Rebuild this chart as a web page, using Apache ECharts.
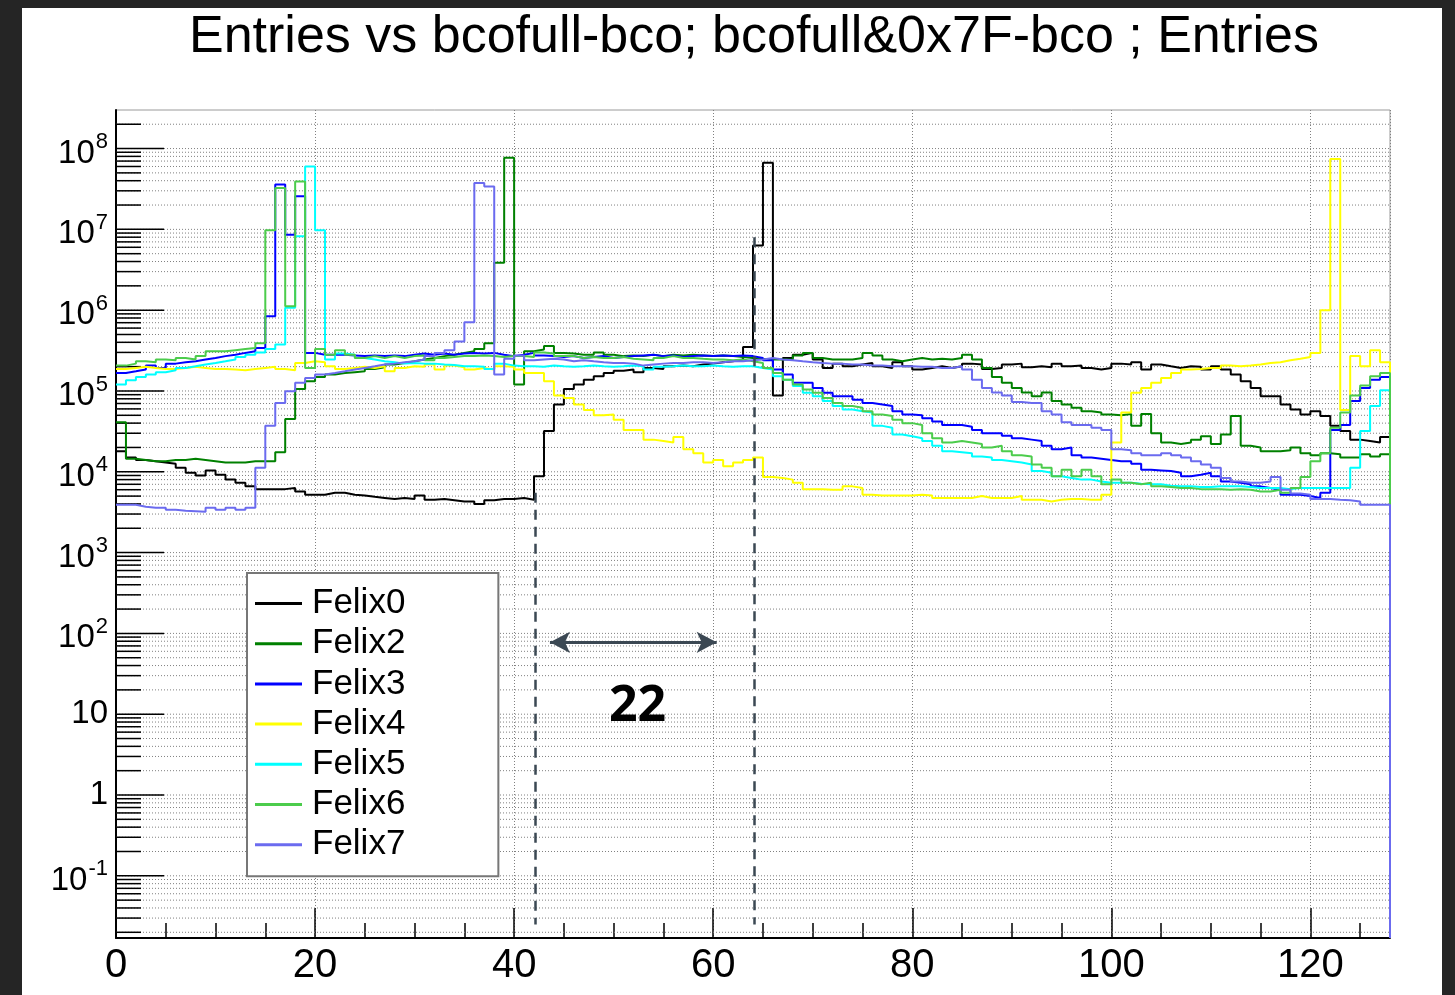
<!DOCTYPE html>
<html><head><meta charset="utf-8">
<script src="https://cdn.jsdelivr.net/npm/echarts@6/dist/echarts.min.js"></script>
<style>html,body{margin:0;padding:0;background:#fff}#c{width:1455px;height:995px}</style>
</head><body><div id="c"></div>
<script>
// ---------- data (entries per bin, 128 bins, x = 0..128) ----------
const felix0 = [
1.8e4,1.5e4,1.4e4,1.35e4,1.3e4,1.26e4,1.12e4,9.7e3,9.0e3,1.04e4,
9.2e3,8.0e3,7.3e3,6.6e3,6.1e3,6.1e3,6.1e3,6.3e3,5.7e3,5.2e3,
5.2e3,5.5e3,5.5e3,5.2e3,5.1e3,4.9e3,4.75e3,4.6e3,4.75e3,4.6e3,
5.1e3,4.5e3,4.6e3,4.45e3,4.3e3,4.3e3,4.0e3,4.45e3,4.6e3,4.6e3,
4.75e3,4.5e3,8.8e3,3.2e4,6.8e4,1.06e5,1.2e5,1.38e5,1.52e5,1.67e5,
1.78e5,1.84e5,1.71e5,1.93e5,1.87e5,2.02e5,2.06e5,2.02e5,2.12e5,2.18e5,
2.27e5,2.33e5,2.45e5,3.5e5,6.3e6,6.65e7,8.8e4,2.56e5,2.8e5,2.96e5,
2.45e5,1.93e5,2.18e5,2.02e5,2.12e5,2.22e5,2.02e5,1.93e5,2.27e5,2.02e5,
1.84e5,1.93e5,2.02e5,1.93e5,2.02e5,2.18e5,2.12e5,1.87e5,1.93e5,2.12e5,
2.18e5,1.97e5,2.02e5,1.97e5,2.18e5,2.02e5,2.06e5,1.93e5,1.84e5,1.93e5,
2.18e5,2.12e5,2.27e5,1.84e5,2.12e5,2.02e5,1.93e5,2.02e5,1.99e5,1.84e5,
2.02e5,1.84e5,1.6e5,1.32e5,1.09e5,8.6e4,8.6e4,6.8e4,5.9e4,5.1e4,
5.6e4,4.9e4,3.7e4,3.2e4,2.5e4,2.4e4,2.3e4,2.7e4];
const felix2 = [
4.1e4,1.45e4,1.4e4,1.35e4,1.35e4,1.4e4,1.4e4,1.45e4,1.4e4,1.35e4,
1.3e4,1.3e4,1.3e4,1.35e4,1.35e4,1.35e4,1.75e4,4.5e4,1.06e5,1.32e5,
1.49e5,1.6e5,1.67e5,1.71e5,1.75e5,1.87e5,1.97e5,2.12e5,2.22e5,2.33e5,
2.45e5,2.56e5,2.7e5,2.8e5,2.96e5,3.1e5,3.3e5,3.9e5,3.85e6,7.7e7,
1.2e5,3.1e5,3.25e5,3.6e5,2.96e5,2.9e5,2.8e5,2.8e5,3.0e5,2.8e5,
2.7e5,2.75e5,2.7e5,2.8e5,2.7e5,2.8e5,2.75e5,2.8e5,2.75e5,2.7e5,
2.75e5,2.7e5,2.64e5,2.56e5,2.5e5,2.45e5,2.45e5,2.45e5,2.75e5,2.96e5,
2.56e5,2.45e5,2.45e5,2.45e5,2.56e5,2.96e5,2.75e5,2.45e5,2.33e5,2.45e5,
2.56e5,2.45e5,2.5e5,2.45e5,2.56e5,2.8e5,2.45e5,1.93e5,1.49e5,1.26e5,
1.09e5,9.6e4,8.6e4,9.6e4,7.5e4,6.8e4,6.2e4,5.6e4,5.4e4,5.1e4,
5.0e4,5.2e4,3.7e4,5.2e4,3.0e4,2.3e4,2.2e4,2.3e4,2.5e4,2.75e4,
2.2e4,2.9e4,4.9e4,2.1e4,2.0e4,1.8e4,1.8e4,1.85e4,2.0e4,1.7e4,
1.6e4,1.7e4,1.65e4,1.5e4,1.5e4,1.65e4,1.55e4,1.65e4];
const felix3 = [
1.67e5,1.75e5,1.84e5,2.06e5,1.93e5,2.18e5,2.27e5,2.33e5,2.45e5,2.56e5,
2.7e5,2.8e5,2.96e5,3.1e5,3.4e5,8.4e5,3.6e7,8.6e6,2.57e7,2.96e5,
2.8e5,2.8e5,2.8e5,2.75e5,2.7e5,2.75e5,2.7e5,2.75e5,2.7e5,2.8e5,
2.9e5,2.8e5,2.9e5,2.8e5,2.9e5,2.96e5,2.9e5,2.96e5,2.8e5,2.7e5,
2.8e5,2.96e5,2.75e5,2.7e5,2.64e5,2.7e5,2.56e5,2.64e5,2.7e5,2.56e5,
2.64e5,2.7e5,2.75e5,2.8e5,2.7e5,2.75e5,2.64e5,2.7e5,2.75e5,2.7e5,
2.75e5,2.7e5,2.75e5,2.7e5,2.56e5,2.4e5,1.84e5,1.6e5,1.26e5,1.26e5,
1.09e5,9.5e4,8.6e4,8.6e4,7.8e4,7.1e4,6.8e4,6.5e4,5.6e4,5.1e4,
5.0e4,4.6e4,4.2e4,3.8e4,3.8e4,3.6e4,3.3e4,3.0e4,3.0e4,2.8e4,
2.6e4,2.5e4,2.4e4,2.1e4,1.9e4,2.0e4,1.6e4,1.5e4,1.45e4,1.4e4,
1.35e4,1.35e4,1.26e4,1.06e4,1.04e4,1.02e4,9.7e3,8.8e3,9.2e3,9.7e3,
8.8e3,7.6e3,7.3e3,7.0e3,6.6e3,6.3e3,6.0e3,5.2e3,5.2e3,5.0e3,
4.75e3,5.5e3,3.3e4,3.8e4,7.5e4,1.09e5,1.38e5,1.49e5];
const felix4 = [
1.87e5,1.93e5,1.99e5,1.93e5,1.87e5,1.87e5,1.93e5,1.99e5,1.93e5,1.87e5,
1.87e5,1.84e5,1.81e5,1.87e5,1.93e5,1.99e5,1.87e5,1.81e5,2.22e5,2.33e5,
2.27e5,2.02e5,1.87e5,1.93e5,1.99e5,1.93e5,2.02e5,1.75e5,1.93e5,2.02e5,
1.99e5,2.12e5,1.84e5,2.06e5,1.97e5,1.84e5,1.93e5,1.84e5,2.02e5,1.99e5,
1.84e5,1.67e5,1.67e5,1.32e5,8.8e4,8.2e4,6.8e4,5.8e4,5.0e4,5.1e4,
4.4e4,3.3e4,3.3e4,2.5e4,2.4e4,2.3e4,2.7e4,1.9e4,1.7e4,1.3e4,
1.4e4,1.17e4,1.3e4,1.4e4,1.5e4,8.6e3,8.4e3,8.0e3,7.3e3,6.1e3,
6.1e3,6.0e3,6.0e3,6.6e3,6.3e3,5.2e3,5.1e3,5.1e3,5.1e3,5.1e3,
5.2e3,5.1e3,4.75e3,4.75e3,4.75e3,4.75e3,5.0e3,4.75e3,4.75e3,4.75e3,
5.0e3,4.5e3,4.5e3,4.3e3,4.5e3,4.6e3,4.6e3,4.5e3,4.5e3,5.2e3,
2.3e4,5.4e4,9.5e4,1.09e5,1.26e5,1.45e5,1.67e5,1.84e5,1.87e5,1.93e5,
1.93e5,2.06e5,2.02e5,2.06e5,2.12e5,2.22e5,2.27e5,2.4e5,2.5e5,2.64e5,
2.96e5,1.0e6,7.4e7,5.8e4,2.7e5,2.02e5,3.2e5,2.27e5];
const felix5 = [
1.2e5,1.36e5,1.49e5,1.6e5,1.71e5,1.81e5,1.93e5,2.02e5,2.12e5,2.22e5,
2.33e5,2.45e5,2.64e5,2.8e5,3.0e5,3.3e5,3.75e5,1.07e6,8.2e6,6.0e7,
9.75e6,2.45e5,2.9e5,2.8e5,2.56e5,2.45e5,2.33e5,2.27e5,2.18e5,2.22e5,
2.18e5,2.18e5,2.12e5,2.1e5,2.02e5,2.02e5,1.99e5,1.87e5,2.18e5,2.06e5,
2.02e5,2.02e5,1.99e5,2.06e5,2.02e5,1.99e5,2.02e5,2.06e5,2.02e5,1.99e5,
2.02e5,2.06e5,2.02e5,1.84e5,1.99e5,2.02e5,2.06e5,2.02e5,2.02e5,2.06e5,
2.02e5,1.99e5,2.02e5,2.02e5,1.93e5,1.84e5,1.52e5,1.38e5,1.15e5,9.5e4,
8.6e4,7.5e4,6.5e4,5.9e4,5.6e4,5.4e4,3.7e4,3.5e4,2.9e4,2.75e4,
2.6e4,2.4e4,2.1e4,1.8e4,1.75e4,1.7e4,1.55e4,1.5e4,1.4e4,1.35e4,
1.3e4,1.23e4,1.02e4,9.7e3,8.8e3,8.4e3,8.0e3,8.0e3,7.6e3,7.3e3,
7.3e3,7.3e3,7.1e3,7.0e3,7.0e3,6.7e3,6.6e3,6.6e3,6.5e3,6.5e3,
6.6e3,6.6e3,6.6e3,6.5e3,6.3e3,6.3e3,6.3e3,6.1e3,6.3e3,6.3e3,
6.3e3,6.3e3,6.3e3,6.3e3,1.12e4,3.2e4,6.5e4,1.02e5];
const felix6 = [
2.06e5,2.18e5,2.33e5,2.27e5,2.45e5,2.4e5,2.56e5,2.45e5,2.7e5,3.1e5,
3.1e5,3.2e5,3.3e5,3.4e5,3.9e5,9.75e6,3.26e7,1.12e6,3.9e7,1.93e5,
3.3e5,2.8e5,3.2e5,2.8e5,2.56e5,2.7e5,2.56e5,2.7e5,2.56e5,2.7e5,
2.75e5,2.4e5,2.56e5,2.64e5,2.7e5,2.7e5,2.75e5,2.7e5,2.64e5,2.7e5,
2.7e5,2.64e5,3.0e5,2.9e5,2.7e5,2.7e5,2.56e5,2.64e5,2.56e5,2.56e5,
2.64e5,2.5e5,2.45e5,2.4e5,2.56e5,2.7e5,2.56e5,2.56e5,2.5e5,2.45e5,
2.45e5,2.4e5,2.45e5,2.33e5,2.22e5,1.93e5,1.67e5,1.38e5,1.2e5,1.04e5,
9.5e4,8.2e4,7.1e4,6.5e4,6.2e4,5.6e4,5.1e4,4.9e4,4.4e4,4.0e4,
3.8e4,3.0e4,2.6e4,2.3e4,2.4e4,2.3e4,2.2e4,2.0e4,2.1e4,1.8e4,
1.6e4,1.55e4,1.23e4,1.12e4,8.8e3,1.06e4,8.8e3,1.06e4,8.8e3,7.0e3,
8.0e3,7.3e3,7.0e3,7.3e3,6.6e3,6.5e3,6.3e3,6.3e3,6.1e3,6.1e3,
6.1e3,6.0e3,6.1e3,6.0e3,5.7e3,5.7e3,6.0e3,5.5e3,6.3e3,8.6e3,
1.35e4,1.7e4,3.5e4,5.4e4,8.8e4,1.17e5,1.52e5,1.67e5];
const felix7 = [
3.9e3,3.9e3,3.7e3,3.6e3,3.6e3,3.4e3,3.3e3,3.25e3,3.2e3,3.6e3,
3.4e3,3.6e3,3.4e3,3.6e3,1.12e4,3.7e4,7.1e4,9.9e4,1.26e5,1.45e5,
1.6e5,1.67e5,1.75e5,1.84e5,1.93e5,2.02e5,2.12e5,2.18e5,2.27e5,2.33e5,
2.45e5,2.7e5,2.96e5,3.2e5,4.1e5,7.1e5,3.76e7,3.4e7,1.6e5,2.5e5,
2.75e5,2.4e5,2.45e5,2.5e5,2.45e5,2.33e5,2.4e5,2.33e5,2.27e5,2.22e5,
2.22e5,2.18e5,2.06e5,2.12e5,2.18e5,2.22e5,2.22e5,2.27e5,2.27e5,2.22e5,
2.27e5,2.33e5,2.33e5,2.4e5,2.45e5,2.56e5,2.45e5,2.4e5,2.33e5,2.27e5,
2.22e5,2.18e5,2.18e5,2.12e5,2.12e5,2.06e5,2.06e5,2.02e5,2.02e5,2.02e5,
1.99e5,1.99e5,1.93e5,1.93e5,2.02e5,1.84e5,1.38e5,1.09e5,9.6e4,8.8e4,
7.3e4,7.1e4,7.1e4,5.6e4,5.1e4,4.1e4,3.8e4,3.8e4,3.5e4,3.3e4,
1.9e4,1.85e4,1.7e4,1.6e4,1.6e4,1.7e4,1.6e4,1.5e4,1.35e4,1.23e4,
1.12e4,8.4e3,7.6e3,7.3e3,7.3e3,7.6e3,8.6e3,6.0e3,5.4e3,5.2e3,
4.6e3,4.6e3,4.5e3,4.45e3,4.3e3,3.9e3,3.9e3,3.9e3];

const seriesNames = ['Felix0','Felix2','Felix3','Felix4','Felix5','Felix6','Felix7'];
const seriesValues = [felix0, felix2, felix3, felix4, felix5, felix6, felix7];
const seriesColors = ['#000000','#008000','#0000ff','#ffff00','#00ffff','#4ccc4c','#6b6bef'];

const xRange = [0, 128];
const yRange = [0.017, 3.0e8];           // entries
const xTickStep = 20, xMinorStep = 5;
const yDecades = [-2,-1,0,1,2,3,4,5,6,7,8];
const yMinorMultipliers = [1,2,3,4,5,6,7,8,9];

// annotation (gap of 22 bins)
const gapLines = [[42.1, 5.5e3], [64.1, 8.0e6]];   // [x, top entries]
const gapBottom = 0.025;
const gapArrow = [[43.6, 77.6], [60.35, 77.6]];
const gapLabel = {text: '22', x: 52.4, y: 12.5};

// ---------- build ----------
const yMinLog = Math.log10(yRange[0]);
const yMaxLog = Math.log10(yRange[1]);

function stepPath(vals) {
  const pts = [];
  for (let i = 0; i < vals.length; i++) {
    const L = Math.log10(vals[i]);
    pts.push([i, L], [i + 1, L]);
  }
  pts.push([vals.length, yMinLog]);
  return pts;
}

const yTickData = [];
yDecades.forEach(e => yMinorMultipliers.forEach(k => {
  const L = e + Math.log10(k);
  if (L > yMinLog + 1e-6 && L < yMaxLog - 1e-6) yTickData.push([xRange[0], L, k === 1 ? 1 : 0]);
}));

const FONT = 'Liberation Sans';
const NARROW = '"Liberation Sans Narrow", "Liberation Sans", Arial, sans-serif';

const series = [];
series.push({
  type: 'custom', name: 'ticks', silent: true, z: 1, animation: false,
  encode: {x: 0, y: 1},
  data: yTickData,
  renderItem(params, api) {
    const L = api.value(1), major = api.value(2);
    const p0 = api.coord([xRange[0], L]);
    const p1 = api.coord([xRange[1], L]);
    return {type: 'group', children: [
      {type: 'line', shape: {x1: p0[0], y1: p0[1], x2: p1[0], y2: p1[1]},
       style: {stroke: '#808080', lineWidth: 1, lineDash: [1, 2]}},
      {type: 'line', shape: {x1: p0[0], y1: p0[1], x2: p0[0] + (major ? 48 : 25), y2: p0[1]},
       style: {stroke: '#000', lineWidth: 1.5}}
    ]};
  }
});
seriesValues.forEach((vals, i) => {
  series.push({
    type: 'line', name: seriesNames[i], data: stepPath(vals),
    symbol: 'none', showSymbol: false, clip: true, animation: false, z: 3,
    lineStyle: {color: seriesColors[i], width: 2},
    itemStyle: {color: seriesColors[i]}
  });
});
series.push({
  type: 'line', name: 'annot', data: [], z: 4, animation: false, silent: true,
  markLine: {
    silent: true, animation: false, symbol: ['none', 'none'], label: {show: false},
    lineStyle: {color: '#3b4853', width: 2.5, type: [10, 7]},
    data: [
      ...gapLines.map(g => [{coord: [g[0], Math.log10(g[1])]}, {coord: [g[0], Math.log10(gapBottom)]}]),
      [{coord: [gapArrow[0][0], Math.log10(gapArrow[0][1])], symbol: 'arrow', symbolSize: [16, 20],
        lineStyle: {type: 'solid', width: 3, color: '#3b4853'}},
       {coord: [gapArrow[1][0], Math.log10(gapArrow[1][1])], symbol: 'arrow', symbolSize: [16, 20]}]
    ]
  },
  markPoint: {
    silent: true, animation: false, symbol: 'circle', symbolSize: 1,
    itemStyle: {color: 'rgba(0,0,0,0)'},
    label: {show: true, position: 'inside', formatter: gapLabel.text, fontSize: 50,
            fontWeight: 'bold', fontFamily: '"Open Sans", "Noto Sans", sans-serif', color: '#000'},
    data: [{coord: [gapLabel.x, Math.log10(gapLabel.y)]}]
  }
});

const chart = echarts.init(document.getElementById('c'));
chart.setOption({
  animation: false,
  backgroundColor: '#ffffff',
  textStyle: {fontFamily: FONT},
  title: {
    text: 'Entries vs bcofull-bco; bcofull&0x7F-bco ; Entries',
    left: 754, top: 12, textAlign: 'center', padding: 0,
    textStyle: {fontSize: 52, fontWeight: 'normal', fontFamily: NARROW, color: '#000'}
  },
  legend: {
    data: seriesNames, orient: 'vertical', left: 247, top: 573,
    icon: 'rect', itemWidth: 47, itemHeight: 3, itemGap: 5.2,
    selectedMode: false, backgroundColor: '#fff', borderColor: '#777', borderWidth: 2,
    padding: [13, 93, 14, 8],
    textStyle: {fontSize: 35, fontFamily: FONT, color: '#000', lineHeight: 35, padding: [0, 0, 0, 5]}
  },
  grid: {left: 116, top: 110, width: 1274, height: 828, show: true,
         borderColor: '#9a9a9a', borderWidth: 1, backgroundColor: '#fff'},
  xAxis: [{
    type: 'value', min: xRange[0], max: xRange[1], interval: xTickStep,
    axisLine: {onZero: false, lineStyle: {color: '#000', width: 2}},
    axisTick: {inside: true, length: 30, lineStyle: {color: '#000', width: 1.5}},
    axisLabel: {fontSize: 40, fontFamily: NARROW, color: '#000', margin: 8, showMaxLabel: false},
    splitLine: {show: true, lineStyle: {color: '#808080', width: 1, type: [1, 2]}}
  }, {
    type: 'value', min: xRange[0], max: xRange[1], interval: xMinorStep, position: 'bottom',
    axisLine: {show: false, onZero: false},
    axisTick: {inside: true, length: 15, lineStyle: {color: '#000', width: 1.5}},
    axisLabel: {show: false}, splitLine: {show: false}
  }],
  yAxis: {
    type: 'value', min: yMinLog, max: yMaxLog, splitNumber: 10,
    axisLine: {show: true, onZero: false, lineStyle: {color: '#000', width: 2}},
    axisTick: {show: false}, splitLine: {show: false},
    axisLabel: {
      margin: 8, showMinLabel: false, showMaxLabel: false, color: '#000',
      formatter(v) {
        const e = Math.round(v);
        if (Math.abs(v - e) > 1e-6) return '';
        if (e === 0) return '{p|1}';
        if (e === 1) return '{p|10}';
        return '{b|10}{s|' + e + '}';
      },
      rich: {
        p: {fontSize: 33, fontFamily: FONT, color: '#000'},
        b: {fontSize: 33, fontFamily: FONT, color: '#000', verticalAlign: 'bottom', padding: [10, 0, 0, 0]},
        s: {fontSize: 22, fontFamily: FONT, color: '#000', verticalAlign: 'top', padding: [4, 0, 0, 1]}
      }
    }
  },
  graphic: [
    {type: 'rect', silent: true, z: 100, shape: {x: 0, y: 0, width: 22, height: 995}, style: {fill: '#252525'}},
    {type: 'rect', silent: true, z: 100, shape: {x: 0, y: 0, width: 1455, height: 8}, style: {fill: '#252525'}},
    {type: 'rect', silent: true, z: 100, shape: {x: 1442, y: 0, width: 13, height: 995}, style: {fill: '#252525'}}
  ],
  series
});
</script>
</body></html>
